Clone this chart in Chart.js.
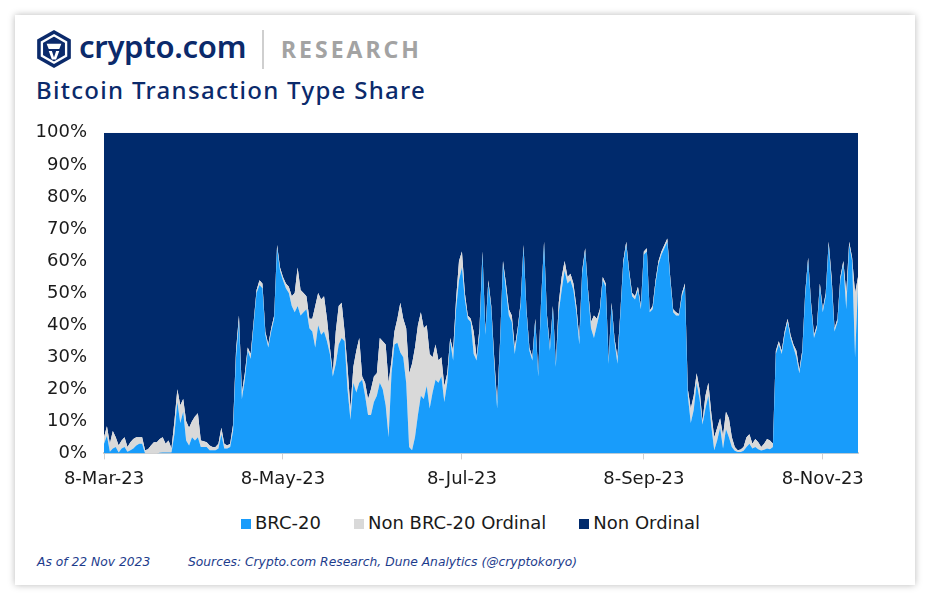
<!DOCTYPE html>
<html>
<head>
<meta charset="utf-8">
<script src="https://cdn.jsdelivr.net/npm/chart.js@4"></script>
<style>
  html, body { margin: 0; padding: 0; background: #ffffff; }
  body { width: 939px; height: 609px; position: relative; overflow: hidden; font-family: "Noto Sans", sans-serif; }
  #card { position: absolute; left: 15px; top: 15px; width: 900px; height: 570px; background: #fff;
          box-shadow: 0 0 7px rgba(0,0,0,0.28); }
  #logo { position: absolute; left: 35px; top: 29px; }
  #brand { position: absolute; left: 79px; top: 25px; font-size: 31px; font-weight: 600; color: #0b2a6b; letter-spacing: -0.3px; }
  #sep { position: absolute; left: 262px; top: 30px; width: 2px; height: 39px; background: #cfcfcf; }
  #research { position: absolute; left: 281px; top: 33px; font-size: 23px; font-weight: 700; color: #a3a3a3; letter-spacing: 3px; }
  #title { position: absolute; left: 36px; top: 73px; font-size: 24px; font-weight: 500; color: #0b2a6b; letter-spacing: 1.3px; }
  #wrap { position: absolute; left: 20px; top: 113px; width: 880px; height: 386px; }
  #legend { position: absolute; left: 241px; top: 512px; display: flex; gap: 33px; align-items: center;
            font-family: "DejaVu Sans", sans-serif; font-size: 18px; color: #1a1a1a; white-space: nowrap; }
  #legend .item { display: flex; align-items: center; }
  #legend .sw { width: 10px; height: 10px; margin-right: 4px; margin-top: 2px; }
  .foot { position: absolute; top: 555px; font-size: 12.3px; font-style: italic; color: #1d3c8c; font-family: "DejaVu Sans", sans-serif; }
</style>
</head>
<body>
<div id="card"></div>
<svg id="logo" width="38" height="40" viewBox="0 0 36 38">
  <path d="M18 1 L34 10 L34 28 L18 37 L2 28 L2 10 Z" fill="#0b2a6b"/>
  <path d="M18 6 L29.5 12.5 L29.5 25.5 L18 32 L6.5 25.5 L6.5 12.5 Z" fill="none" stroke="#ffffff" stroke-width="2.2"/>
  <path d="M11 14 L25 14 L23 19 L13 19 Z" fill="#ffffff"/>
  <path d="M13 21 L16 21 L18 27 L20 21 L23 21 L20 29 L16 29 Z" fill="#ffffff"/>
</svg>
<div id="brand">crypto.com</div>
<div id="sep"></div>
<div id="research">RESEARCH</div>
<div id="title">Bitcoin Transaction Type Share</div>
<div id="wrap"><canvas id="c"></canvas></div>
<div id="legend"></div>
<div class="foot" style="left:37px;">As of 22 Nov 2023</div>
<div class="foot" style="left:188px;">Sources: Crypto.com Research, Dune Analytics (@cryptokoryo)</div>
<script>
// ---- data (daily share, %, from 8-Mar-23) ----
const startDate = [2023, 2, 8];
const dayCount = 258;
const tickLabels = ['8-Mar-23', '8-May-23', '8-Jul-23', '8-Sep-23', '8-Nov-23'];
const yTicks = [0, 10, 20, 30, 40, 50, 60, 70, 80, 90, 100];
const seriesNames = ['BRC-20', 'Non BRC-20 Ordinal', 'Non Ordinal'];

const brc20 = [
  3,5.5,0.5,1.5,2,0.3,1.5,2,0.5,1,
  1.5,2.5,3,3,0,0,0,0,0,0.2,
  0.3,0.3,0.3,0.3,6,16,9.5,13,4,2.5,
  5,4,5,2,2,2,1,1,1,1.5,
  6,1.5,1.5,2,7,30,41,17,23,32,
  29.5,40,50,52.5,51.5,37,33,38,42,64,
  57,54,51.5,50,46,44,46,43,44,45,
  39,38,33,40,37,38,35,31,24,28,
  34,36,35,20,10.5,22,19,22,23,18,
  12,12,16,18,22,20,15,5,25,34,
  34.5,31.5,30,22,2,1,5,12,18,17,
  21,14,19,23,22,24,16,22,35,29,
  45,54,58,48,42,41,31,29,37,62,
  37,53,45,28,14,34,59,51,43,41,
  31,38,46,64,44,32,29,41,24,47,
  65,42,32,45,27,44,51,57,53,54,
  51,44,34,56,63,50,39,36,40,44,
  54,52,28,46,35,28,43,59,65,56,
  49,48,51,45,62,63,44,45,53,59,
  62,64,66,54,44,43,43,49,52,18,
  9.5,13.5,22,17,9,14,18,8.5,1,4,
  8,1.5,7.5,5,2,0.8,0.4,0.4,0.8,2,
  3,1.5,2,1.3,0.9,1.1,1.5,1.3,2,31,
  34,31,37,41,36,33,30,25,31,49,
  60,46,36,39,52,44,49,65,53,38,
  41,54,59,45,65,60,30,52
];
const nonBrc20Ordinal = [
  2,3,2.5,5.5,3,2.2,2.5,3,1.5,2.5,
  3,2.5,2,2,1,1.3,2.5,3.5,3.5,4.3,
  4.7,2.7,3.7,1.2,4,4,5.5,4,6,5.5,
  5,7.5,7.5,2,1.8,1.5,1.5,1,1,1.5,
  2,1.5,1,1,2,2,2,2,2,1,
  1.5,1,1,1.5,1.5,1,1,1,1,1,
  1,1,1.5,2,3,6,12,8,6,4,
  3,4,13,10,11,11,7,2,1,10,
  12,11,3,7,3.5,5,13,14,1,4,
  5,8,8,7,14,15,19,17,4,4,
  7.5,15.5,12,17,23,27,28,28,26,22,
  19,17,11,11,7,6,5,3,1,3,
  3,6,5,2,1,1,7,1,2,1,
  1,1,1,2,2,1,1,2,2,2,
  2,1,1,1,1,1,1,1,1,1,
  1,1,1,1,1,3,4,3,2,2,
  2,2,2,1,1,1,2,7,2,1,
  1,1,1,1,1,2,1,1,1,1,
  1,1,1,1,1,1,0.5,1,1,1,
  1,1,1,1,1,1,0.5,1,1,2,
  4.5,4.5,3,3,1,4,4,4,4,4,
  3,4,5.5,6,3,1.2,0.6,0.8,1.2,3,
  3,1.5,2.5,2.2,1.1,1.9,3,2.7,1,1,
  1,1,1,1,1,1,2,1,1,1,
  1,1,1,1,1,1,1,1,2,1,
  1,1,1,5,1,1,20,3
];
const nonOrdinal = [
  95,91.5,97,93,95,97.5,96,95,98,96.5,
  95.5,95,95,95,99,98.7,97.5,96.5,96.5,95.5,
  95,97,96,98.5,90,80,85,83,90,92,
  90,88.5,87.5,96,96.2,96.5,97.5,98,98,97,
  92,97,97.5,97,91,68,57,81,75,67,
  69,59,49,46,47,62,66,61,57,35,
  42,45,47,48,51,50,42,49,50,51,
  58,58,54,50,52,51,58,67,75,62,
  54,53,62,73,86,73,68,64,76,78,
  83,80,76,75,64,65,66,78,71,62,
  58,53,58,61,75,72,67,60,56,61,
  60,69,70,66,71,70,79,75,64,68,
  52,40,37,50,57,58,62,70,61,37,
  62,46,54,70,84,65,40,47,55,57,
  67,61,53,35,55,67,70,58,75,52,
  34,57,67,54,72,53,45,40,45,44,
  47,54,64,43,36,49,59,57,58,55,
  45,47,71,53,64,70,56,40,34,43,
  50,51,48,54,37,36,55.5,54,46,40,
  37,35,33,45,55,56,56.5,50,47,80,
  86,82,75,80,90,82,78,87.5,95,92,
  89,94.5,87,89,95,98,99,98.8,98,95,
  94,97,95.5,96.5,98,97,95.5,96,97,68,
  65,68,62,58,63,66,68,74,68,50,
  39,53,63,60,47,55,50,34,45,61,
  58,45,40,50,34,39,50,45
];

// ---- category labels (one per day) ----
const MONTHS = ['Jan','Feb','Mar','Apr','May','Jun','Jul','Aug','Sep','Oct','Nov','Dec'];
const labels = [];
for (let i = 0; i < dayCount; i++) {
  const d = new Date(startDate[0], startDate[1], startDate[2] + i);
  labels.push(d.getDate() + '-' + MONTHS[d.getMonth()] + '-' + String(d.getFullYear()).slice(2));
}

const COLORS = ['#189cfb', '#d9d9d9', '#002a6c'];
const FONT = { family: '"DejaVu Sans", sans-serif', size: 18 };

const chart = new Chart(document.getElementById('c'), {
  type: 'line',
  data: {
    labels: labels,
    datasets: [
      { label: seriesNames[0], data: brc20, backgroundColor: COLORS[0], fill: 'origin' },
      { label: seriesNames[1], data: nonBrc20Ordinal, backgroundColor: COLORS[1], fill: '-1' },
      { label: seriesNames[2], data: nonOrdinal, backgroundColor: COLORS[2], fill: '-1' }
    ].map(ds => Object.assign(ds, { borderWidth: 0, pointRadius: 0, tension: 0, borderColor: ds.backgroundColor }))
  },
  options: {
    responsive: true,
    maintainAspectRatio: false,
    animation: false,
    layout: { padding: { left: 0, right: 42, top: 7, bottom: 0 } },
    plugins: {
      tooltip: { enabled: false },
      legend: { display: false }
    },
    scales: {
      x: {
        type: 'category',
        offset: false,
        afterBuildTicks: (scale) => {
          scale.ticks = scale.ticks.filter(t => tickLabels.includes(labels[t.value]));
        },
        ticks: {
          autoSkip: false, maxRotation: 0, minRotation: 0, padding: 9,
          font: FONT, color: '#1a1a1a',
          callback: function (v) { return labels[v]; }
        },
        grid: { display: true, drawOnChartArea: false, drawTicks: true, tickLength: 6, color: '#d0d0d0', tickColor: '#d0d0d0' },
        border: { display: true, color: '#d0d0d0', width: 2 }
      },
      y: {
        stacked: true,
        min: 0, max: 100,
        afterBuildTicks: (scale) => { scale.ticks = yTicks.map(v => ({ value: v })); },
        afterFit: (scale) => { scale.width = 84; },
        ticks: { font: FONT, color: '#1a1a1a', padding: 9, callback: v => v + '%' },
        grid: { display: false },
        border: { display: false }
      }
    }
  }
});

// HTML legend built from the chart's datasets
const legendEl = document.getElementById('legend');
chart.data.datasets.forEach(ds => {
  const item = document.createElement('div');
  item.className = 'item';
  const sw = document.createElement('span');
  sw.className = 'sw';
  sw.style.background = ds.backgroundColor;
  const tx = document.createElement('span');
  tx.textContent = ds.label;
  item.appendChild(sw);
  item.appendChild(tx);
  legendEl.appendChild(item);
});
</script>
</body>
</html>
